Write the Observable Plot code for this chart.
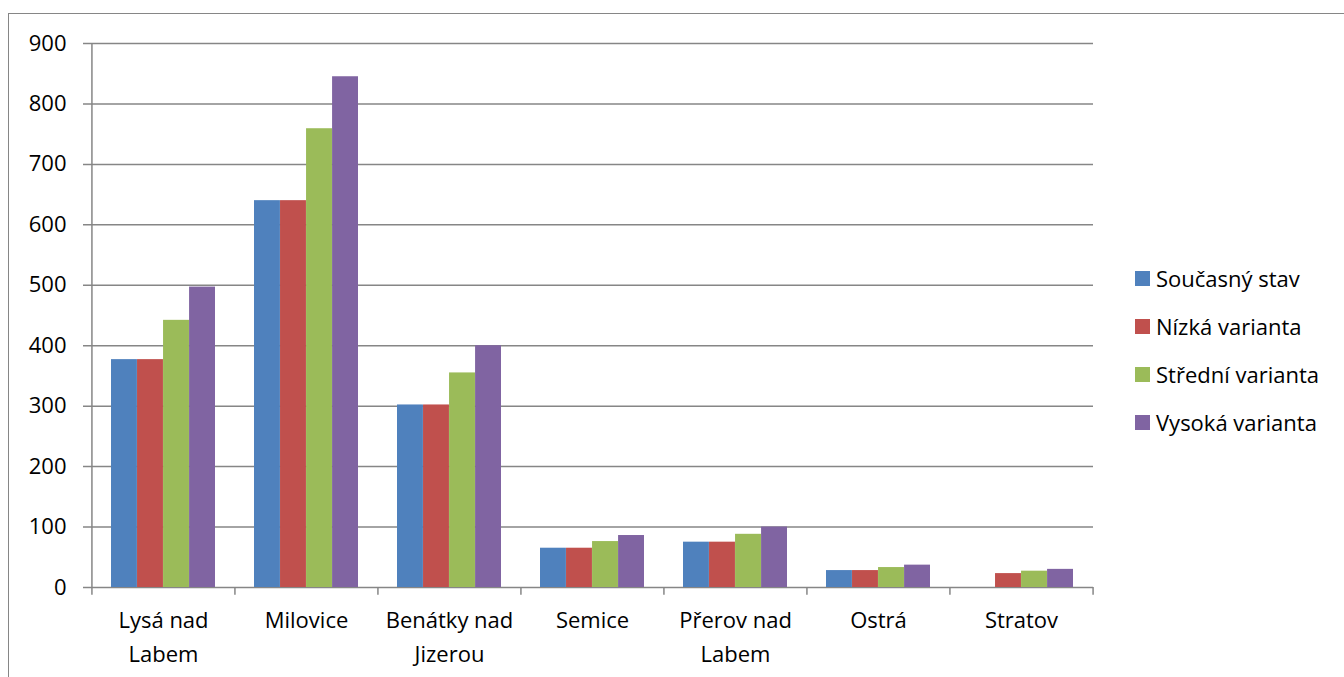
<!DOCTYPE html>
<html><head><meta charset="utf-8">
<script src="https://cdn.jsdelivr.net/npm/d3@7"></script>
<script src="https://cdn.jsdelivr.net/npm/@observablehq/plot@0.6"></script>
<style>
body{margin:0;background:#fff;}
#wrap{position:relative;width:1344px;height:677px;overflow:hidden;font-family:"Open Sans",sans-serif;background:#fff;}
#border{position:absolute;left:8px;top:13px;width:1400px;height:800px;border:1.5px solid #868686;pointer-events:none;}
#chart{position:absolute;left:0;top:0;}
#legend{position:absolute;left:1135px;top:254px;}
.item{display:flex;align-items:center;height:48px;font-size:22px;color:#000;}
.sw{width:15px;height:15px;margin-right:6px;flex:none;}
</style></head><body>
<div id="wrap"><div id="chart"></div><div id="border"></div><div id="legend"></div></div>
<script>
const categories = ["Lysá nad Labem","Milovice","Benátky nad Jizerou","Semice","Přerov nad Labem","Ostrá","Stratov"];
const categoryLabels = ["Lysá nad\nLabem","Milovice","Benátky nad\nJizerou","Semice","Přerov nad\nLabem","Ostrá","Stratov"];
const seriesNames = ["Současný stav","Nízká varianta","Střední varianta","Vysoká varianta"];
const seriesColors = ["#4F81BD","#C0504D","#9BBB59","#8064A2"];
const soucasnyStav = [377,640,302,65,75,28,0];
const nizkaVarianta = [377,640,302,65,75,28,23];
const stredniVarianta = [442,759,355,76,88,33,27];
const vysokaVarianta = [497,845,400,86,100,37,30];
const yTicks = [0,100,200,300,400,500,600,700,800,900];

const seriesValues = [soucasnyStav, nizkaVarianta, stredniVarianta, vysokaVarianta];

const W = 1344, H = 677, mL = 91, mR = 251, mT = 43, mB = 90;
const step = (W - mL - mR) / categories.length;
const pInner = 39 / 143, pOuter = pInner / 2;
const bw = step * (1 - pInner);
const barW = bw / seriesNames.length;
const gray = "#868686";
const tickUnits = 13; // tick length below axis in data units

const labelOf = new Map(categories.map((c, i) => [c, categoryLabels[i]]));

const barMarks = seriesValues.map((vals, s) =>
  Plot.barY(categories.map((c, i) => ({category: c, value: vals[i]})), {
    x: "category", y: "value", fill: seriesColors[s],
    insetLeft: s * barW, insetRight: (seriesNames.length - 1 - s) * barW
  })
);

const plot = Plot.plot({
  width: W, height: H,
  marginLeft: mL, marginRight: mR, marginTop: mT, marginBottom: mB,
  style: {fontFamily: "'Open Sans', sans-serif", fontSize: "22px", color: "#000", background: "transparent", overflow: "visible"},
  x: {domain: categories, paddingInner: pInner, paddingOuter: pOuter, axis: null},
  y: {domain: [0, 900], ticks: yTicks, tickSize: 0, tickPadding: 25, label: null},
  marks: [
    Plot.ruleY(yTicks, {stroke: gray, strokeWidth: 1.5, insetLeft: -8}),
    ...barMarks,
    Plot.ruleX([categories[0]], {x: d => d, dx: -step / 2, y1: -tickUnits, y2: 900, stroke: gray, strokeWidth: 1.5}),
    Plot.ruleX(categories.slice(1), {x: d => d, dx: -step / 2, y1: -tickUnits, y2: 0, stroke: gray, strokeWidth: 1.5}),
    Plot.ruleX([categories[categories.length - 1]], {x: d => d, dx: step / 2, y1: -tickUnits, y2: 0, stroke: gray, strokeWidth: 1.5}),
    Plot.text(categories, {x: d => d, y: 0, text: d => labelOf.get(d), dy: 16, lineAnchor: "top", lineHeight: 1.55, fontSize: 22, fill: "#000"})
  ]
});
document.getElementById("chart").appendChild(plot);

const legend = document.getElementById("legend");
seriesNames.forEach((name, i) => {
  const item = document.createElement("div");
  item.className = "item";
  const sw = document.createElement("span");
  sw.className = "sw";
  sw.style.background = seriesColors[i];
  const t = document.createElement("span");
  t.textContent = name;
  item.appendChild(sw); item.appendChild(t);
  legend.appendChild(item);
});
</script>
</body></html>
